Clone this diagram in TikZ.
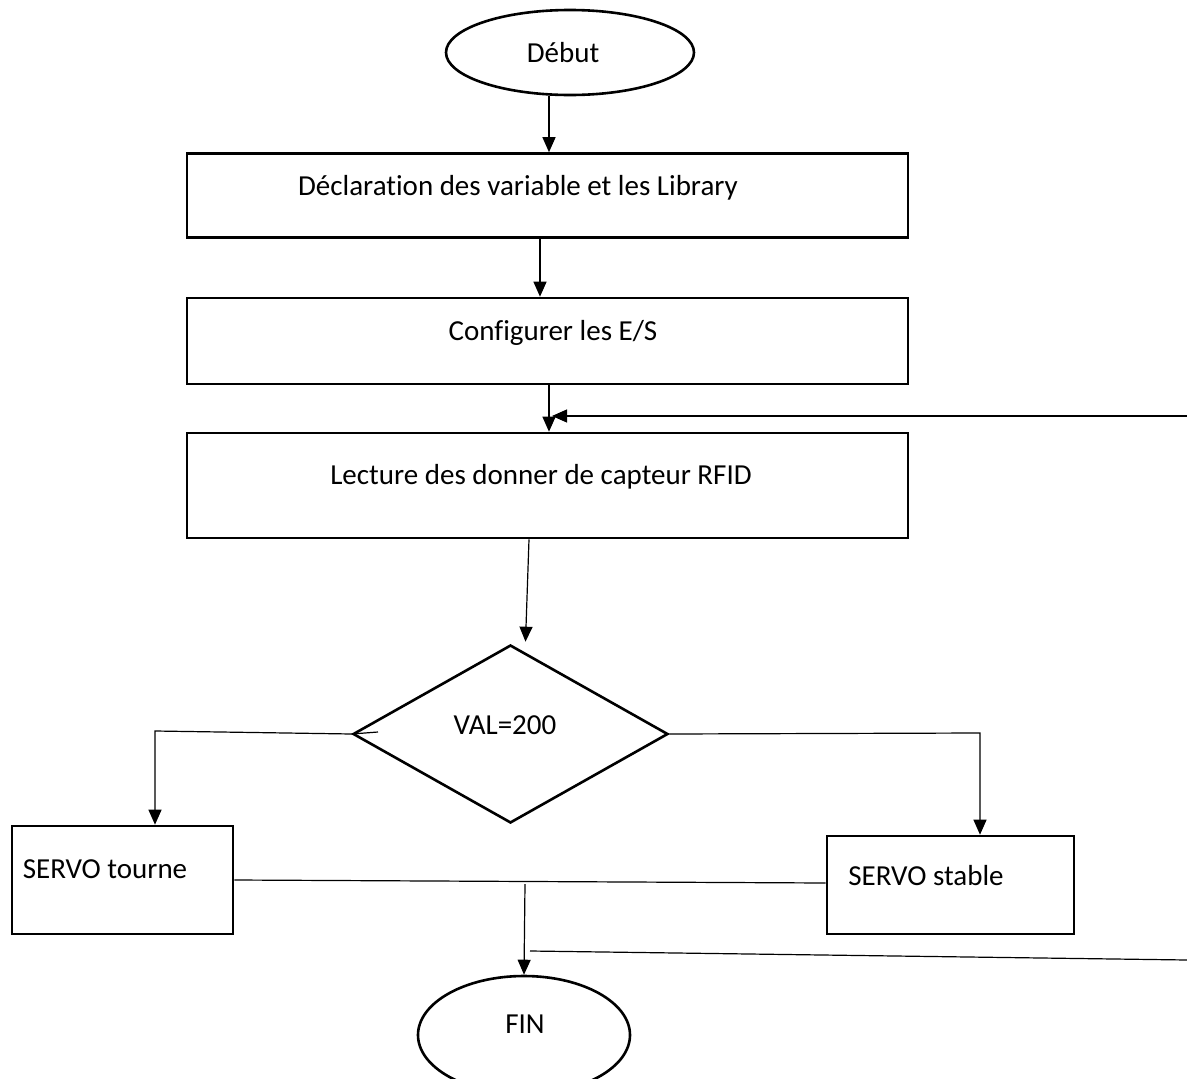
\documentclass[tikz,border=0pt]{standalone}
\usepackage{fontspec}
\setmainfont{Carlito}[Ligatures=NoCommon]
\usetikzlibrary{shapes.geometric,arrows.meta,calc}
\begin{document}
\begin{tikzpicture}[x=1pt,y=-1pt,
  font=\fontsize{29}{34}\selectfont,
  shp/.style={draw=black,line width=2.6pt,inner sep=0pt},
  boxn/.style={shp,rectangle},
  elln/.style={shp,ellipse},
  dia/.style={shp,diamond},
  txt/.style={inner sep=0pt,anchor=center},
  conn/.style={draw=black,line width=1.2pt},
  arr/.style={conn,-{Triangle[length=15pt,width=13pt]}}]
\useasboundingbox (0,0) rectangle (1187,1079);
% shapes
\node[elln,minimum width=248pt,minimum height=85pt] (debut) at (570,52.5) {};
\node[txt] (tdebut) at (563,53) {Début};
\node[boxn,minimum width=721pt,minimum height=84pt] (box1) at (547.5,195.5) {};
\node[txt] (tbox1) at (518,188) {Déclaration des variable et les Library};
\node[boxn,minimum width=721pt,minimum height=86pt] (box2) at (547.5,341) {};
\node[txt] (tbox2) at (553,333) {Configurer les E/S};
\node[boxn,minimum width=721pt,minimum height=105pt] (box3) at (547.5,485.5) {};
\node[txt] (tbox3) at (541,477) {Lecture des donner de capteur RFID};
\node[dia,minimum width=315pt,minimum height=178pt] (dec) at (510.5,734) {};
\node[txt] (tdec) at (505,725) {VAL=200};
\node[boxn,minimum width=221pt,minimum height=108pt] (tourne) at (122.5,880) {};
\node[txt] (ttourne) at (105,869) {SERVO tourne};
\node[boxn,minimum width=247pt,minimum height=98pt] (stable) at (950.5,885) {};
\node[txt] (tstable) at (926,876) {SERVO stable};
\node[elln,minimum width=212pt,minimum height=118pt] (fin) at (524,1035) {};
\node[txt] (tfin) at (525,1024) {FIN};
% free ends
\coordinate (loopin) at (1187,416);
\coordinate (botout) at (1187,960);
\coordinate (leftstart) at (378,732);
\coordinate (merge) at (525,884);
\coordinate (botstart) at (530,951);
% connectors
\draw[arr] (debut.south -| box1.north) ++(1.5,0) -- ([xshift=1.5pt]box1.north);
\draw[arr] ([xshift=-7.5pt]box1.south) -- ([xshift=-7.5pt]box2.north);
\draw[arr] ([xshift=1.5pt]box2.south) -- ([xshift=1.5pt]box3.north);
\draw[arr] (loopin) -- (552,416);
\draw[arr] ([xshift=-18.5pt]box3.south) -- ([xshift=15pt,yshift=2pt]dec.north);
\draw[arr] (leftstart) -- (dec.west) -- (155,731) -- ([xshift=32.5pt]tourne.north);
\draw[arr] (dec.east) -- (980,733) -- ([xshift=29.5pt]stable.north);
\draw[conn] ([yshift=0pt]tourne.east) -- ([yshift=2pt]stable.west);
\draw[arr] (merge) -- (fin.north);
\draw[conn] (botstart) -- (botout);
\end{tikzpicture}
\end{document}
